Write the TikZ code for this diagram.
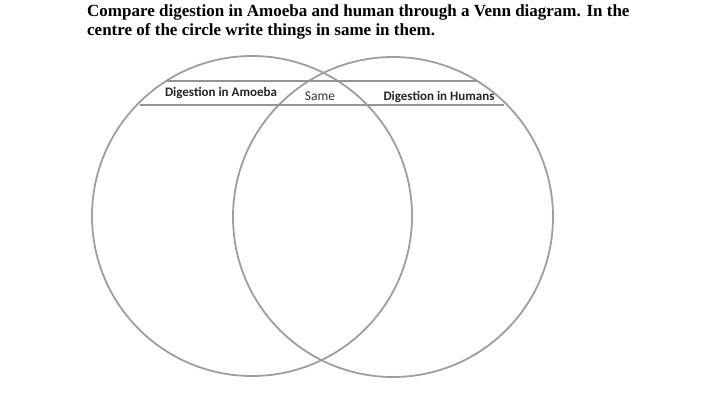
\documentclass[tikz,border=0pt]{standalone}
\usepackage{fontspec}
\setmainfont{Liberation Serif}
\newfontfamily\tagfont{Carlito}
\usetikzlibrary{positioning}

\begin{document}
\begin{tikzpicture}[x=1pt, y=-1pt,
    ring/.style={circle, draw=black!38, line width=1.8pt, minimum size=320pt, inner sep=0pt},
    band/.style={draw=black!42, line width=2.4pt},
    tag/.style={font=\tagfont\fontsize{13.5}{15}\selectfont, text=black!80, inner sep=0pt},
    boldtag/.style={tag, font=\tagfont\bfseries\fontsize{13}{15}\selectfont, text=black!85},
    heading/.style={font=\bfseries\fontsize{17}{19}\selectfont, anchor=base west, inner sep=0pt}]
  \useasboundingbox (0,0) rectangle (720,412);
  \node[heading] (title1) at (87,17) {Compare digestion in Amoeba and human through a Venn diagram. In the};
  \node[heading] (title2) at (87,35.5) {centre of the circle write things in same in them.};
  % the two sets
  \node[ring] (amoeba) at (252,216) {};
  \node[ring] (humans) at (393,217) {};
  % header band
  \coordinate (bandtl) at (166,81);
  \coordinate (bandtr) at (478,81);
  \coordinate (bandbl) at (140,105);
  \coordinate (bandbr) at (504,105);
  \draw[band] (bandtl) -- (bandtr);
  \draw[band] (bandbl) -- (bandbr);
  \node[boldtag] (lamoeba) at (221,93) {Digestion in Amoeba};
  \node[tag] (lsame) at (320,96) {Same};
  \node[boldtag] (lhumans) at (439,97) {Digestion in Humans};
\end{tikzpicture}
\end{document}
